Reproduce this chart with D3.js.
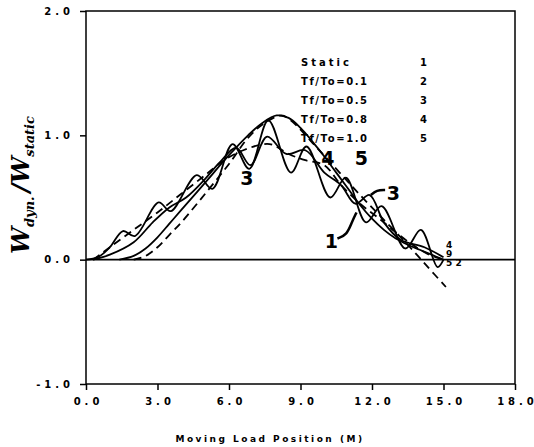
<!DOCTYPE html>
<html>
<head>
<meta charset="utf-8">
<script src="https://cdn.jsdelivr.net/npm/d3@7"></script>
<style>
  body { margin: 0; background: #fff; }
  svg { display: block; }
  .tick text { font-family: "DejaVu Sans", sans-serif; font-weight: bold; font-size: 10px; letter-spacing: 4px; fill: #000; }
</style>
</head>
<body>
<svg width="534" height="447"></svg>
<script>
var width = 534;
var height = 447;

var xTicks = [0, 3, 6, 9, 12, 15, 18];
var yTicks = [-1, 0, 1, 2];

var legendNames = ['Static', 'Tf/To=0.1', 'Tf/To=0.5', 'Tf/To=0.8', 'Tf/To=1.0'];
var legendIds = ['1', '2', '3', '4', '5'];

// curve 1: static influence line
var staticCurve = [[1.4,0],[2,0.03],[2.5,0.09],[3,0.18],[3.5,0.29],[4,0.4],[5,0.62],[6,0.84],[6.8,1.0],[7.4,1.1],[8,1.16],[8.5,1.14],[9,1.06],[9.5,0.95],[10,0.83],[10.5,0.7],[11,0.57],[11.5,0.44],[12,0.33],[12.5,0.24],[13,0.17],[13.5,0.12],[14,0.08],[14.5,0.04],[15,0]];
// curve 2: Tf/To=0.1
var tf01 = [[0,0],[0.5,0.02],[1.0,0.1],[1.55,0.23],[2.05,0.19],[3.05,0.46],[3.55,0.39],[4.65,0.68],[5.3,0.57],[6.15,0.93],[6.85,0.73],[7.65,1.12],[8.6,0.7],[9.25,0.91],[10.25,0.5],[10.9,0.66],[11.75,0.3],[12.4,0.43],[13.4,0.09],[14.05,0.24],[14.75,-0.06],[15.0,0]];
// curve 3: Tf/To=0.5
var tf05 = [[0.3,0],[1,0.04],[2,0.14],[2.8,0.3],[3.5,0.42],[4.2,0.5],[5,0.65],[5.6,0.78],[6.3,0.9],[6.9,0.76],[7.6,0.99],[8.4,0.85],[9.2,0.88],[10,0.7],[10.7,0.6],[11.3,0.45],[11.9,0.52],[12.5,0.3],[13.2,0.16],[14.2,0.1],[15,0.02]];
// curve 4: Tf/To=0.8
var tf08 = [[0.3,0],[1,0.1],[2,0.24],[3,0.38],[4,0.53],[5,0.68],[5.8,0.8],[6.6,0.88],[7.7,0.93],[8.5,0.85],[9.2,0.8],[10,0.76],[10.7,0.6],[11.5,0.45],[12.3,0.33],[13,0.22],[13.7,0.12],[14.4,0.04],[15,0]];
// curve 5: Tf/To=1.0
var tf10 = [[2,0],[2.5,0.03],[3,0.1],[3.5,0.2],[4,0.3],[5,0.53],[6,0.77],[6.8,0.98],[7.5,1.1],[8.2,1.16],[8.6,1.12],[9.5,0.94],[10.5,0.73],[11.5,0.52],[12.5,0.32],[13.5,0.12],[14.3,-0.05],[15.1,-0.22]];

// hand written curve labels
var markText = ['3', '4', '5', '3', '1'];
var markPos = [[6.75,0.6],[10.15,0.76],[11.55,0.76],[12.9,0.48],[10.3,0.09]];
var endText = ['4', '9', '5', '2'];
var endPos = [[15.1,0.09],[15.1,0.02],[15.1,-0.05],[15.5,-0.05]];

var svg = d3.select('svg');

var xScale = d3.scaleLinear().domain([0, 18]).range([86, 515]);
var yScale = d3.scaleLinear().domain([-1, 2]).range([384, 11]);

// frame
svg.append('rect')
  .attr('x', xScale(0)).attr('y', yScale(2))
  .attr('width', xScale(18) - xScale(0)).attr('height', yScale(-1) - yScale(2))
  .attr('fill', 'none').attr('stroke', '#000').attr('stroke-width', 1.5);

// zero line
svg.append('line')
  .attr('x1', xScale(0)).attr('x2', xScale(18))
  .attr('y1', yScale(0)).attr('y2', yScale(0))
  .attr('stroke', '#000').attr('stroke-width', 1.6);

var axisLeft = d3.axisLeft(yScale).tickValues(yTicks).tickSize(6).tickPadding(6)
  .tickFormat(function(d) { return d.toFixed(1); });
var gy = svg.append('g').attr('transform', 'translate(' + xScale(0) + ',0)').call(axisLeft);
gy.select('.domain').remove();
gy.selectAll('.tick line').attr('stroke-width', 1.5);

var axisBottom = d3.axisBottom(xScale).tickValues(xTicks).tickSize(6).tickPadding(8)
  .tickFormat(function(d) { return d.toFixed(1); });
var gx = svg.append('g').attr('transform', 'translate(0,' + yScale(-1) + ')').call(axisBottom);
gx.select('.domain').remove();
gx.selectAll('.tick line').attr('stroke-width', 1.5);
gx.selectAll('.tick text').attr('dx', '2px').attr('letter-spacing', '3.5px');

// curves
var line = d3.line()
  .x(function(d) { return xScale(d[0]); })
  .y(function(d) { return yScale(d[1]); })
  .curve(d3.curveCatmullRom);

var curves = [
  { data: staticCurve, dash: null },
  { data: tf01, dash: null },
  { data: tf05, dash: null },
  { data: tf08, dash: '8,5' },
  { data: tf10, dash: '8,5' }
];

svg.append('g').selectAll('path').data(curves).enter()
  .append('path')
  .attr('d', function(d) { return line(d.data); })
  .attr('fill', 'none')
  .attr('stroke', '#000')
  .attr('stroke-width', 1.8)
  .attr('stroke-dasharray', function(d) { return d.dash; });

// legend
var legend = svg.append('g')
  .style('font-family', '"DejaVu Sans", sans-serif')
  .style('font-weight', 'bold')
  .style('font-size', '10px');
legend.selectAll('text.name').data(legendNames).enter()
  .append('text').attr('class', 'name')
  .attr('x', 301)
  .attr('y', function(d, i) { return 66 + i * 19; })
  .attr('letter-spacing', function(d, i) { return i == 0 ? '3px' : '1.6px'; })
  .text(function(d) { return d; });
legend.selectAll('text.id').data(legendIds).enter()
  .append('text').attr('class', 'id')
  .attr('x', 420)
  .attr('y', function(d, i) { return 66 + i * 19; })
  .text(function(d) { return d; });

// hand marks
var marks = svg.append('g')
  .style('font-family', '"DejaVu Sans", sans-serif')
  .style('font-weight', 'bold')
  .style('font-size', '19px');
marks.selectAll('text').data(markText).enter()
  .append('text')
  .attr('x', function(d, i) { return xScale(markPos[i][0]); })
  .attr('y', function(d, i) { return yScale(markPos[i][1]); })
  .attr('text-anchor', 'middle')
  .text(function(d) { return d; });

var arrowLine = d3.line()
  .x(function(d) { return xScale(d[0]); })
  .y(function(d) { return yScale(d[1]); })
  .curve(d3.curveBasis);
svg.append('path')
  .attr('d', arrowLine([[10.55,0.17],[10.95,0.2],[11.15,0.3],[11.35,0.38]]))
  .attr('fill', 'none').attr('stroke', '#000').attr('stroke-width', 2.5);
svg.append('path')
  .attr('d', arrowLine([[11.95,0.52],[12.2,0.56],[12.55,0.56]]))
  .attr('fill', 'none').attr('stroke', '#000').attr('stroke-width', 2.5);

svg.append('g')
  .style('font-family', '"DejaVu Sans", sans-serif')
  .style('font-weight', 'bold')
  .style('font-size', '9px')
  .selectAll('text').data(endText).enter()
  .append('text')
  .attr('x', function(d, i) { return xScale(endPos[i][0]); })
  .attr('y', function(d, i) { return yScale(endPos[i][1]); })
  .text(function(d) { return d; });

// axis titles
svg.append('text')
  .attr('x', 270).attr('y', 442)
  .attr('text-anchor', 'middle')
  .style('font-family', '"DejaVu Sans", sans-serif')
  .style('font-weight', 'bold')
  .style('font-size', '9px')
  .attr('letter-spacing', '2.5px')
  .text('Moving Load Position (M)');

var ytitle = svg.append('text')
  .attr('transform', 'translate(29,185) rotate(-90)')
  .attr('text-anchor', 'middle')
  .style('font-family', '"DejaVu Serif", serif')
  .style('font-style', 'italic')
  .style('font-weight', 'bold')
  .style('font-size', '24px');
ytitle.append('tspan').text('W');
ytitle.append('tspan').attr('dy', 5).style('font-size', '13px').text('dyn.');
ytitle.append('tspan').attr('dy', -5).attr('dx', 4).text('/W');
ytitle.append('tspan').attr('dy', 5).style('font-size', '13px').text('static');
</script>
</body>
</html>
